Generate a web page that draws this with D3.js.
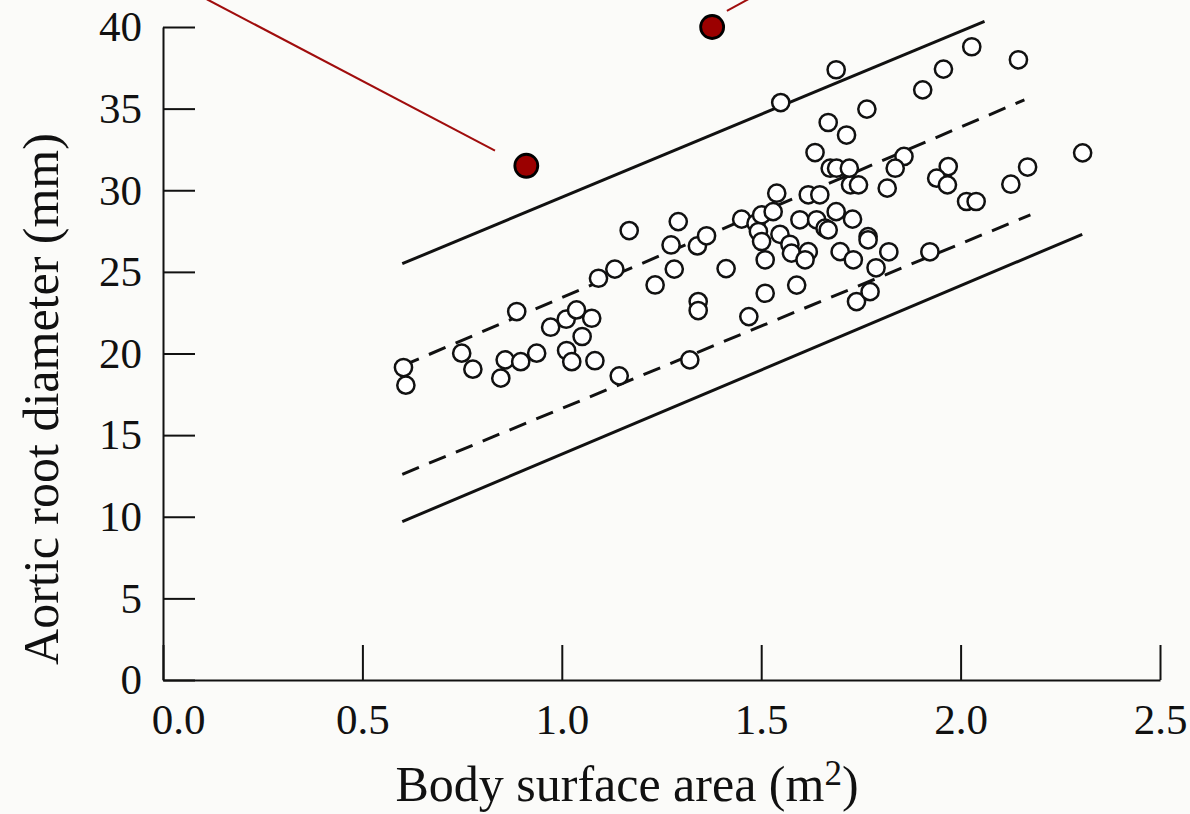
<!DOCTYPE html>
<html>
<head>
  <meta charset="utf-8">
  <title>Aortic root diameter vs body surface area</title>
  <script src="https://cdn.jsdelivr.net/npm/d3@7/dist/d3.min.js"></script>
  <style>
    body {
      margin: 0;
      background: #fbfbf9;
    }
    svg {
      display: block;
      font-family: "Liberation Serif", "Times New Roman", serif;
    }
    .axis path,
    .axis line {
      stroke: #111;
      stroke-width: 2;
    }
    .axis text {
      font-family: "Liberation Serif", "Times New Roman", serif;
      font-size: 43px;
      fill: #111;
    }
  </style>
</head>
<body>
<div id="chart"></div>
<script>
  // open circles: body surface area (m2) vs aortic root diameter (mm)
  var bsa = [
    0.603, 0.609, 0.749, 0.777, 0.847, 0.858, 0.887, 0.897, 0.937, 0.972,
    1.011, 1.037, 1.075, 1.051, 1.012, 1.025, 1.083, 1.092, 1.133, 1.144,
    1.169, 1.292, 1.274, 1.340, 1.363, 1.282, 1.234, 1.412, 1.342, 1.342,
    1.321, 1.469, 1.510, 1.589, 1.451, 1.487, 1.501, 1.493, 1.501, 1.510,
    1.530, 1.539, 1.547, 1.572, 1.576, 1.597, 1.618, 1.610, 1.618, 1.647,
    1.639, 1.660, 1.668, 1.688, 1.724, 1.744, 1.729, 1.698, 1.731, 1.768,
    1.768, 1.788, 1.739, 1.773, 1.688, 1.549, 1.957, 2.028, 2.145, 1.905,
    1.765, 1.668, 1.714, 1.635, 1.673, 1.689, 1.721, 1.858, 1.836, 1.816,
    1.969, 1.940, 1.967, 2.015, 2.039, 2.126, 2.168, 2.306, 1.820, 1.923
  ];
  var aortic = [
    19.14, 18.06, 20.02, 19.04, 18.49, 19.61, 22.57, 19.50, 20.02, 21.61,
    22.10, 22.67, 22.16, 21.04, 20.18, 19.50, 19.56, 24.61, 25.17, 18.63,
    27.53, 28.08, 26.65, 26.59, 27.21, 25.17, 24.20, 25.20, 23.18, 22.63,
    19.61, 22.26, 23.69, 24.19, 28.23, 27.98, 28.49, 27.47, 26.86, 25.74,
    28.69, 29.82, 27.30, 26.69, 26.15, 28.19, 26.24, 25.74, 29.72, 29.72,
    28.19, 27.68, 27.57, 28.69, 30.33, 30.33, 28.23, 26.24, 25.74, 27.16,
    26.96, 25.25, 23.18, 23.79, 37.38, 35.37, 37.42, 38.79, 37.99, 36.15,
    34.97, 34.15, 33.38, 32.31, 31.35, 31.35, 31.35, 32.07, 31.35, 30.13,
    31.45, 30.74, 30.33, 29.31, 29.31, 30.37, 31.42, 32.29, 26.23, 26.23
  ];

  // highlighted (red) points
  var redBsa = [0.911, 1.377];
  var redAortic = [31.5, 40.0];
  // callout lines leaving the red points: [x1, y1, x2, y2] in data units
  var callouts = [
    [0.11, 41.7, 0.8325, 32.43],
    [1.414, 40.99, 1.475, 41.8]
  ];

  // reference lines: [x1, y1, x2, y2]
  var upperSolid = [0.6, 25.5, 2.06, 40.35];
  var upperDashed = [0.6, 19.24, 2.16, 35.54];
  var lowerDashed = [0.6, 12.6, 2.175, 28.49];
  var lowerSolid = [0.6, 9.7, 2.305, 27.3];

  var xTicks = [0, 0.5, 1.0, 1.5, 2.0, 2.5];
  var yTicks = [0, 5, 10, 15, 20, 25, 30, 35, 40];

  var width = 1190, height = 814;
  var margin = { left: 163, top: 27, right: 30, bottom: 134 };

  var svg = d3.select('#chart')
    .append('svg')
    .attr('width', width)
    .attr('height', height);

  var x = d3.scaleLinear()
    .domain([0, 2.5])
    .range([margin.left, 1160]);

  var y = d3.scaleLinear()
    .domain([0, 40])
    .range([height - margin.bottom, margin.top]);

  // axes
  var gx = svg.append('g')
    .attr('class', 'axis')
    .attr('transform', `translate(0, ${y(0)})`)
    .call(d3.axisBottom(x)
      .tickValues(xTicks)
      .tickFormat(d3.format('.1f'))
      .tickSizeInner(-35)
      .tickSizeOuter(0)
      .tickPadding(23));
  // first label sits right of the y axis
  gx.selectAll('.tick text').filter(d => d === 0).attr('dx', 15);

  svg.append('g')
    .attr('class', 'axis')
    .attr('transform', `translate(${x(0)}, 0)`)
    .call(d3.axisLeft(y)
      .tickValues(yTicks)
      .tickSizeInner(-32)
      .tickSizeOuter(0)
      .tickPadding(21));

  // reference lines
  var refLines = [
    { v: upperSolid, dash: null },
    { v: upperDashed, dash: '18,11' },
    { v: lowerDashed, dash: '18,11' },
    { v: lowerSolid, dash: null }
  ];
  svg.selectAll('.ref')
    .data(refLines)
    .enter()
    .append('line')
    .attr('class', 'ref')
    .attr('x1', d => x(d.v[0]))
    .attr('y1', d => y(d.v[1]))
    .attr('x2', d => x(d.v[2]))
    .attr('y2', d => y(d.v[3]))
    .attr('stroke', '#111')
    .attr('stroke-width', 3)
    .attr('stroke-dasharray', d => d.dash);

  // callout lines
  svg.selectAll('.callout')
    .data(callouts)
    .enter()
    .append('line')
    .attr('class', 'callout')
    .attr('x1', d => x(d[0]))
    .attr('y1', d => y(d[1]))
    .attr('x2', d => x(d[2]))
    .attr('y2', d => y(d[3]))
    .attr('stroke', '#a00d0d')
    .attr('stroke-width', 2);

  // open circles
  svg.selectAll('.dot')
    .data(bsa)
    .enter()
    .append('circle')
    .attr('class', 'dot')
    .attr('cx', d => x(d))
    .attr('cy', (d, i) => y(aortic[i]))
    .attr('r', 8.6)
    .attr('fill', '#fff')
    .attr('stroke', '#111')
    .attr('stroke-width', 2.5);

  // red points
  svg.selectAll('.red')
    .data(redBsa)
    .enter()
    .append('circle')
    .attr('class', 'red')
    .attr('cx', d => x(d))
    .attr('cy', (d, i) => y(redAortic[i]))
    .attr('r', 11.5)
    .attr('fill', '#9b0000')
    .attr('stroke', '#000')
    .attr('stroke-width', 2.8);

  // axis titles
  var xt = svg.append('text')
    .attr('x', 627)
    .attr('y', 801)
    .attr('text-anchor', 'middle')
    .style('font-size', '50px')
    .attr('fill', '#111');
  xt.append('tspan').text('Body surface area (m');
  xt.append('tspan').text('2').attr('dy', -16).style('font-size', '35px');
  xt.append('tspan').text(')').attr('dy', 16);

  svg.append('text')
    .attr('transform', 'translate(58, 399) rotate(-90)')
    .attr('text-anchor', 'middle')
    .style('font-size', '50px')
    .attr('fill', '#111')
    .text('Aortic root diameter (mm)');
</script>
</body>
</html>
